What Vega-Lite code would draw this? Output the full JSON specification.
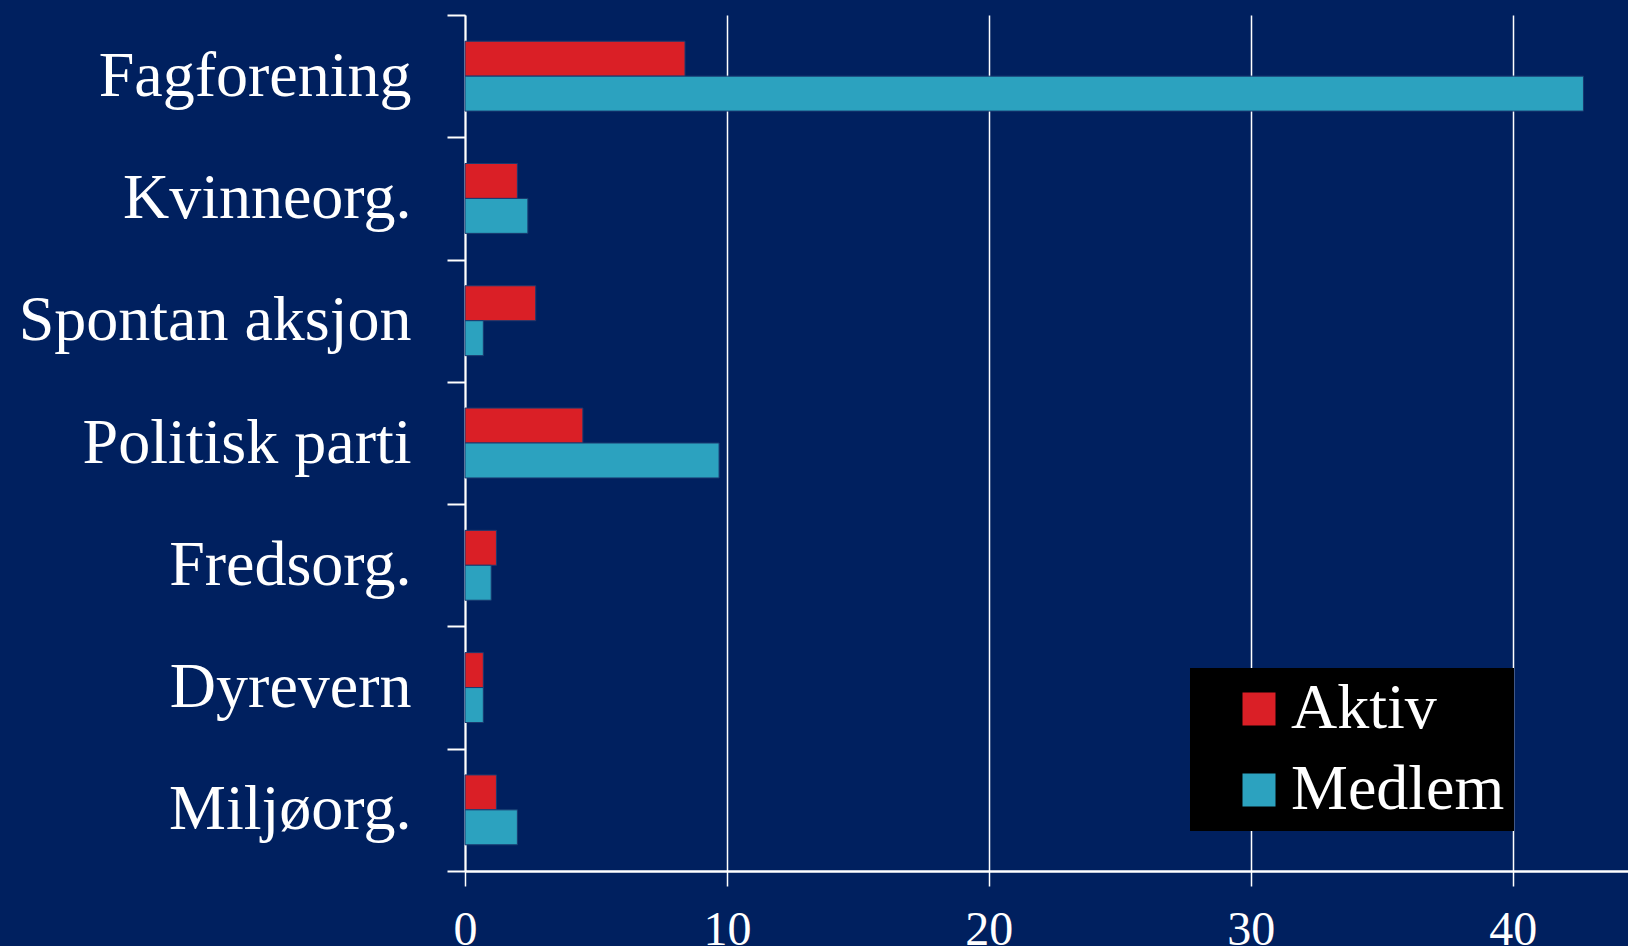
{
  "$schema": "https://vega.github.io/schema/vega-lite/v6.json",
  "width": 1163,
  "height": 856,
  "autosize": {"type": "none"},
  "padding": {"left": 465, "top": 15, "right": 0, "bottom": 75},
  "background": "#00205F",
  "config": {
    "view": {"stroke": null},
    "font": "Liberation Serif"
  },
  "data": {
    "values": [
      {"kategori": "Fagforening", "type": "Aktiv", "verdi": 8.4},
      {"kategori": "Fagforening", "type": "Medlem", "verdi": 42.7},
      {"kategori": "Kvinneorg.", "type": "Aktiv", "verdi": 2.0},
      {"kategori": "Kvinneorg.", "type": "Medlem", "verdi": 2.4},
      {"kategori": "Spontan aksjon", "type": "Aktiv", "verdi": 2.7},
      {"kategori": "Spontan aksjon", "type": "Medlem", "verdi": 0.7},
      {"kategori": "Politisk parti", "type": "Aktiv", "verdi": 4.5},
      {"kategori": "Politisk parti", "type": "Medlem", "verdi": 9.7},
      {"kategori": "Fredsorg.", "type": "Aktiv", "verdi": 1.2},
      {"kategori": "Fredsorg.", "type": "Medlem", "verdi": 1.0},
      {"kategori": "Dyrevern", "type": "Aktiv", "verdi": 0.7},
      {"kategori": "Dyrevern", "type": "Medlem", "verdi": 0.7},
      {"kategori": "Miljøorg.", "type": "Aktiv", "verdi": 1.2},
      {"kategori": "Miljøorg.", "type": "Medlem", "verdi": 2.0}
    ]
  },
  "mark": {"type": "bar", "stroke": "#1a3a70", "strokeWidth": 1},
  "encoding": {
    "y": {
      "field": "kategori",
      "type": "nominal",
      "sort": null,
      "title": null,
      "scale": {"paddingInner": 0, "paddingOuter": 0},
      "axis": {
        "tickBand": "extent",
        "domainColor": "white",
        "domainWidth": 2,
        "tickColor": "white",
        "tickWidth": 2,
        "tickSize": 18,
        "labelColor": "white",
        "labelFontSize": 64,
        "labelFont": "Liberation Serif",
        "labelPadding": 36,
        "labelLimit": 0,
        "grid": false
      }
    },
    "yOffset": {
      "field": "type",
      "type": "nominal",
      "sort": ["Aktiv", "Medlem"],
      "scale": {"paddingInner": 0, "paddingOuter": 0.75}
    },
    "x": {
      "field": "verdi",
      "type": "quantitative",
      "title": null,
      "scale": {"domain": [0, 44.4], "nice": false},
      "axis": {
        "values": [0, 10, 20, 30, 40],
        "domainColor": "white",
        "domainWidth": 2.5,
        "tickColor": "white",
        "tickWidth": 1.5,
        "tickSize": 15,
        "grid": true,
        "gridColor": "white",
        "gridWidth": 1.5,
        "gridOpacity": 1,
        "labelColor": "white",
        "labelFontSize": 48,
        "labelFont": "Liberation Serif",
        "labelPadding": 20,
        "labelFlush": false
      }
    },
    "color": {
      "field": "type",
      "type": "nominal",
      "scale": {"domain": ["Aktiv", "Medlem"], "range": ["#DA1F26", "#2CA2BF"]},
      "legend": {
        "title": null,
        "orient": "none",
        "legendX": 725,
        "legendY": 653,
        "fillColor": "black",
        "padding": 9,
        "symbolType": "square",
        "symbolSize": 1089,
        "symbolStrokeWidth": 0,
        "symbolOffset": 28,
        "labelColor": "white",
        "labelFontSize": 64,
        "labelFont": "Liberation Serif",
        "labelOffset": 0,
        "labelLimit": 0,
        "rowPadding": 17
      }
    }
  }
}
